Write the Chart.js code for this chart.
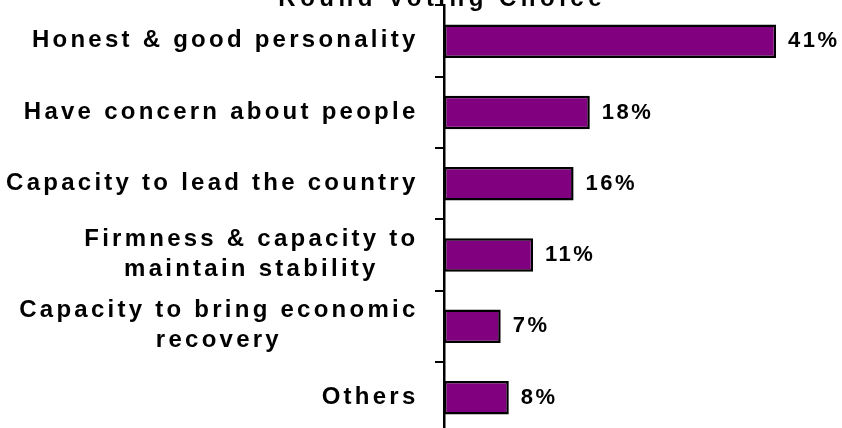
<!DOCTYPE html>
<html>
<head>
<meta charset="utf-8">
<script src="https://cdn.jsdelivr.net/npm/chart.js@4/dist/chart.umd.min.js"></script>
<style>
  html, body { margin: 0; padding: 0; background: #fff; overflow: hidden; }
  #wrap { position: absolute; left: 0; top: 0; width: 842px; height: 440px; }
</style>
</head>
<body>
<div id="wrap"><canvas id="c"></canvas></div>
<script>
const titleText = "Round Voting Choice";
const categories = [
  ["Honest & good personality"],
  ["Have concern about people"],
  ["Capacity to lead the country"],
  ["Firmness & capacity to", "maintain stability"],
  ["Capacity to bring economic", "recovery"],
  ["Others"]
];
const values = [41, 18, 16, 11, 7, 8];
const valueLabels = ["41%", "18%", "16%", "11%", "7%", "8%"];

const FONT = '"Liberation Sans", Arial, sans-serif';

const textPlugin = {
  id: 'textPlugin',
  afterDraw(chart) {
    const ctx = chart.ctx;
    const yScale = chart.scales.y;
    const xScale = chart.scales.x;
    const area = chart.chartArea;
    ctx.save();
    ctx.fillStyle = '#000';

    // Title (mostly cut off at the top edge)
    ctx.font = 'bold 24px ' + FONT;
    ctx.letterSpacing = '4.5px';
    ctx.textAlign = 'center';
    ctx.textBaseline = 'alphabetic';
    ctx.fillText(titleText, 440 + 2.2, area.top + 0.5);

    // Category labels: block right-aligned to axis, lines centered within block
    ctx.font = 'bold 24px ' + FONT;
    ctx.letterSpacing = '3.25px';
    ctx.textBaseline = 'middle';
    ctx.textAlign = 'center';
    const rightEdge = area.left - 25.5;
    const lineH = 30;
    categories.forEach((lines, i) => {
      const cy = yScale.getPixelForValue(i);
      let maxW = 0;
      lines.forEach(l => { maxW = Math.max(maxW, ctx.measureText(l).width); });
      const cx = rightEdge - maxW / 2;
      const startY = cy - (lines.length - 1) * lineH / 2 - 0.5;
      lines.forEach((l, k) => {
        ctx.fillText(l, cx, startY + k * lineH);
      });
    });

    // Value labels
    ctx.font = 'bold 22px ' + FONT;
    ctx.letterSpacing = '2.5px';
    ctx.textAlign = 'left';
    ctx.textBaseline = 'middle';
    values.forEach((v, i) => {
      const x = xScale.getPixelForValue(v) + 12;
      const y = yScale.getPixelForValue(i);
      ctx.fillText(valueLabels[i], x, y);
    });
    ctx.restore();
  }
};

new Chart(document.getElementById('c'), {
  type: 'bar',
  data: {
    labels: categories,
    datasets: [{
      data: values,
      backgroundColor: '#800080',
      borderColor: '#000000',
      borderWidth: 2.5,
      borderSkipped: false,
      barPercentage: 0.47,
      categoryPercentage: 1.0
    }]
  },
  options: {
    indexAxis: 'y',
    responsive: true,
    maintainAspectRatio: false,
    devicePixelRatio: 1,
    animation: false,
    layout: { padding: { top: 5.5, bottom: 6.7, left: 0, right: 33.5 } },
    plugins: {
      legend: { display: false },
      tooltip: { enabled: false },
      title: { display: false }
    },
    scales: {
      x: {
        display: false,
        min: 0,
        max: 45
      },
      y: {
        type: 'category',
        offset: true,
        afterFit(scale) { scale.width = 444; },
        ticks: { display: false },
        border: { display: true, color: '#000', width: 2.5 },
        grid: {
          display: true,
          offset: true,
          drawOnChartArea: false,
          drawTicks: true,
          tickLength: 9,
          color: '#000',
          lineWidth: 2
        }
      }
    }
  },
  plugins: [textPlugin]
});
</script>
</body>
</html>
